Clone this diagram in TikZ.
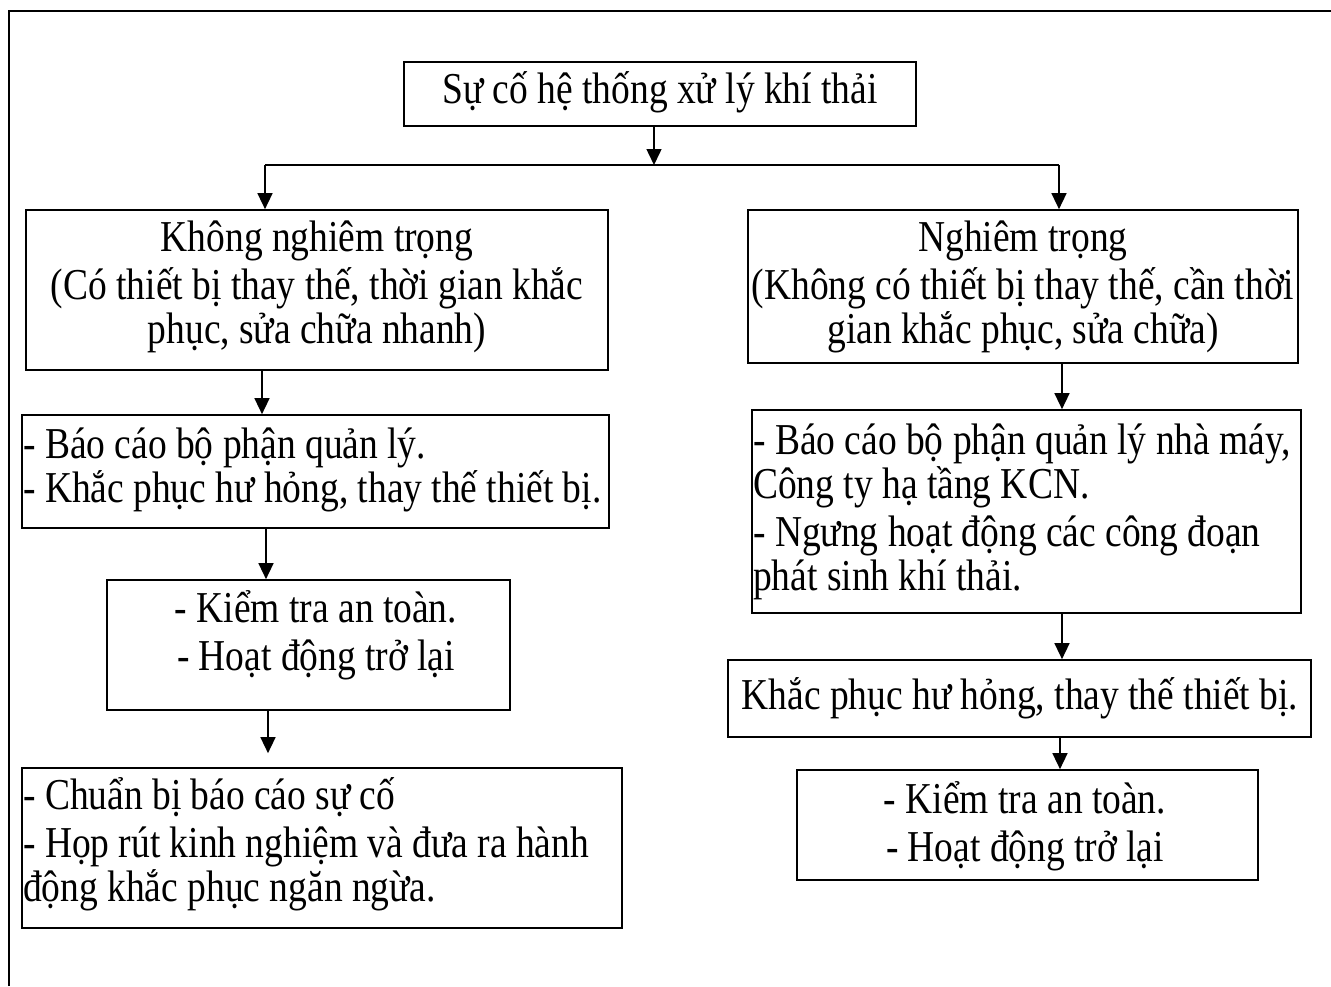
\documentclass[tikz,border=0pt]{standalone}
\usepackage{fontspec}
\setmainfont{Liberation Serif}[FakeStretch=0.85]
\usetikzlibrary{arrows.meta}
\begin{document}
\begin{tikzpicture}[x=1pt,y=-1pt,
  box/.style={draw, line width=1.7pt, rectangle, inner sep=0pt},
  txt/.style={inner sep=0pt, font=\fontsize{44.1pt}{44pt}\selectfont},
  arr/.style={line width=1.5pt, -{Triangle[width=15pt,length=16pt]}},
  link/.style={line width=1.5pt},
  frame/.style={line width=2.2pt}]
\useasboundingbox (0,0) rectangle (1331,986);

% page frame (top and left edges)
\draw[frame] (9,986) -- (9,11) -- (1331,11);

% boxes
\node[box, minimum width=512pt, minimum height=64pt]  (top) at (660,94) {};
\node[box, minimum width=582pt, minimum height=160pt] (l1) at (317,290) {};
\node[box, minimum width=550pt, minimum height=153pt] (r1) at (1023,286.5) {};
\node[box, minimum width=587pt, minimum height=113pt] (l2) at (315.5,471.5) {};
\node[box, minimum width=403pt, minimum height=130pt] (l3) at (308.5,645) {};
\node[box, minimum width=600pt, minimum height=160pt] (l4) at (322,848) {};
\node[box, minimum width=549pt, minimum height=203pt] (r2) at (1026.5,511.5) {};
\node[box, minimum width=583pt, minimum height=77pt]  (r3) at (1019.5,698.5) {};
\node[box, minimum width=461pt, minimum height=110pt] (r4) at (1027.5,825) {};

% texts
\node[txt] (topT) at (660,92) {Sự cố hệ thống xử lý khí thải};
\node[txt, align=center] (l1T) at (317,287)
  {Không nghiêm trọng\\[4pt](Có thiết bị thay thế, thời gian khắc\\phục, sửa chữa nhanh)};
\node[txt, align=center] (r1T) at (1023,287)
  {Nghiêm trọng\\[4pt](Không có thiết bị thay thế, cần thời\\gian khắc phục, sửa chữa)};
\node[txt, align=left, anchor=west] (l2T) at (23,470)
  {- Báo cáo bộ phận quản lý.\\- Khắc phục hư hỏng, thay thế thiết bị.};
\node[txt, align=center] (l3T) at (316,635)
  {- Kiểm tra an toàn.\\[4pt]- Hoạt động trở lại};
\node[txt, align=left, anchor=west] (l4T) at (23,844)
  {- Chuẩn bị báo cáo sự cố\\[4pt]- Họp rút kinh nghiệm và đưa ra hành\\động khắc phục ngăn ngừa.};
\node[txt, align=left, anchor=west] (r2T) at (753,512)
  {- Báo cáo bộ phận quản lý nhà máy,\\Công ty hạ tầng KCN.\\[4pt]- Ngưng hoạt động các công đoạn\\phát sinh khí thải.};
\node[txt] (r3T) at (1020,698) {Khắc phục hư hỏng, thay thế thiết bị.};
\node[txt, align=center] (r4T) at (1025,826)
  {- Kiểm tra an toàn.\\[4pt]- Hoạt động trở lại};

% branching below the top box
\coordinate (split) at (654,165);
\coordinate (jl) at (265,165);
\coordinate (jr) at (1059,165);
\draw[arr] (top.south -| split) -- (split);
\draw[link] (jl) -- (jr);
\draw[arr] (jl) -- (l1.north -| jl);
\draw[arr] (jr) -- (r1.north -| jr);

% left chain
\coordinate (a1) at (262,0);
\coordinate (a2) at (266,0);
\coordinate (a3) at (268,0);
\draw[arr] (l1.south -| a1) -- (l2.north -| a1);
\draw[arr] (l2.south -| a2) -- (l3.north -| a2);
\draw[arr] (l3.south -| a3) -- ([yshift=14pt]l4.north -| a3);

% right chain
\coordinate (b1) at (1062,0);
\coordinate (b2) at (1062,0);
\coordinate (b3) at (1060,0);
\draw[arr] (r1.south -| b1) -- (r2.north -| b1);
\draw[arr] (r2.south -| b2) -- (r3.north -| b2);
\draw[arr] (r3.south -| b3) -- (r4.north -| b3);
\end{tikzpicture}
\end{document}
